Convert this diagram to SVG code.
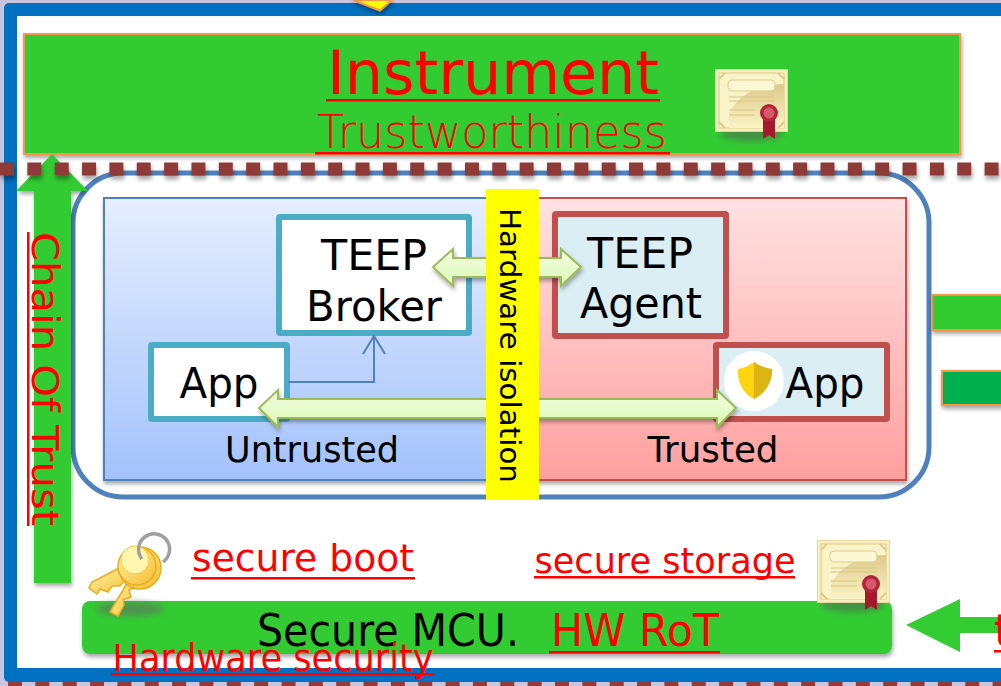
<svg xmlns="http://www.w3.org/2000/svg" width="1001" height="686" viewBox="0 0 1001 686">
<style>
text{font-family:"DejaVu Sans","Noto Sans",sans-serif;fill:#000}
.r{fill:#ff0000}
.u{fill:#ff0000}
.g{fill:#33cc33}
.o{stroke:#f79646;stroke-width:2}
.a{fill:url(#ag);stroke:#9bbb59;stroke-width:2}
.k{fill:url(#kg);stroke:#e8ae1e;stroke-width:1.5}
</style>
<defs>
<linearGradient id="bg" x1="0" y1="0" x2="0" y2="1"><stop offset="0" stop-color="#e6eeff"/><stop offset="1" stop-color="#a3c2fb"/></linearGradient>
<linearGradient id="rg" x1="0" y1="0" x2="0" y2="1"><stop offset="0" stop-color="#ffe2e2"/><stop offset="1" stop-color="#ff9f9f"/></linearGradient>
<linearGradient id="ag" x1="0" y1="0" x2="0" y2="1"><stop offset="0" stop-color="#f2ffdf"/><stop offset="1" stop-color="#dcf7b8"/></linearGradient>
<linearGradient id="kg" x1="0" y1="0" x2="1" y2="1"><stop offset="0" stop-color="#fff3a8"/><stop offset="1" stop-color="#f4bd2e"/></linearGradient>
<linearGradient id="cg" x1="0" y1="0" x2="0" y2="1"><stop offset="0" stop-color="#dcc98a"/><stop offset="1" stop-color="#fbf3c4"/></linearGradient>
<filter id="s" x="-10%" y="-30%" width="120%" height="170%"><feDropShadow dx="1" dy="3" stdDeviation="2" flood-color="#000" flood-opacity=".35"/></filter>
<filter id="ls" filterUnits="userSpaceOnUse" x="0" y="150" width="1001" height="40"><feDropShadow dx="1" dy="4" stdDeviation="2" flood-color="#000" flood-opacity=".35"/></filter>
<filter id="b" x="-30%" y="-100%" width="160%" height="300%"><feGaussianBlur stdDeviation="3"/></filter>
<g id="cert">
<ellipse cx="36" cy="65" rx="32" ry="7" fill="#4d6b4d" opacity=".6" filter="url(#b)"/>
<rect x="0.5" y="0.5" width="72" height="62" fill="#f8efbd" stroke="#e5d9a0"/>
<rect x="4" y="4" width="65" height="55" fill="#faf3c8" stroke="#dccb8c"/>
<path d="M14 45C22 26 44 15 69 15V59H14Z" fill="url(#cg)"/>
<path d="M4 10L10 4M63 4L69 10M4 53L10 59M63 59L69 53" stroke="#dccb8c" stroke-width="2" fill="none"/>
<rect x="13" y="11" width="47" height="11" rx="4" fill="#fdf7d4" stroke="#dccb8c"/>
<path d="M14 28H60M14 32H60M14 41H40M14 46H40" stroke="#d6c585" stroke-width="1.2" fill="none"/>
<path d="M48 48H60V70L54 66L48 70Z" fill="#a6182b"/>
<circle cx="54" cy="44" r="9" fill="#b3243a"/>
<circle cx="54" cy="44" r="5.5" fill="#d4596a"/>
</g>
</defs>

<rect width="1001" height="686" fill="#c9c5df"/>
<g id="frame"><rect x="4" y="3" width="1040" height="679" rx="5" fill="#0070c0"/><rect x="17" y="16" width="1000" height="652" fill="#fff"/></g>
<path id="top-tip" d="M353 0L380 10.500L392 0Z" fill="#ffff00" stroke="#f79646" stroke-width="2" filter="url(#s)"/>

<g id="instrument">
<rect x="24" y="34" width="936" height="120" class="g o" filter="url(#s)"/>
<text x="493" y="94" font-size="60" text-anchor="middle" class="r" textLength="332" lengthAdjust="spacingAndGlyphs">Instrument</text>
<rect class="u" x="326" y="99" width="334" height="2.500"/>
<text x="492" y="148" font-size="46" font-weight="200" text-anchor="middle" class="r" textLength="350" lengthAdjust="spacingAndGlyphs">Trustworthiness</text>
<rect class="u" x="315" y="152" width="355" height="2.500"/>
<use href="#cert" x="715" y="69"/>
</g>

<g id="outer"><rect x="73" y="173" width="856" height="324" rx="50" fill="#fff" stroke="#4f81bd" stroke-width="5"/></g>
<g id="chain-of-trust">
<path d="M34 583V191H16L52 154L88 191H71V583Z" class="g" filter="url(#s)"/>
<text transform="translate(32,232) rotate(90)" font-size="37" class="r" textLength="294" lengthAdjust="spacingAndGlyphs">Chain Of Trust</text>
<rect class="u" x="27" y="232" width="2.500" height="294"/>
</g>
<path id="divider" d="M0 169H1001" fill="none" stroke="#8e3a38" stroke-width="13" stroke-dasharray="14 13.35" filter="url(#ls)"/>

<g id="untrusted"><rect x="104" y="198" width="400" height="282" fill="url(#bg)" stroke="#4f81bd" stroke-width="2" filter="url(#s)"/>
<text x="312" y="462" font-size="36" text-anchor="middle" textLength="174" lengthAdjust="spacingAndGlyphs">Untrusted</text></g>
<g id="trusted"><rect x="504" y="198" width="402" height="282" fill="url(#rg)" stroke="#c0504d" stroke-width="2" filter="url(#s)"/>
<text x="713" y="462" font-size="36" text-anchor="middle" textLength="131" lengthAdjust="spacingAndGlyphs">Trusted</text></g>

<g id="teep-broker"><rect x="279" y="217" width="190" height="116" fill="#fff" stroke="#4bacc6" stroke-width="6" rx="1"/>
<text x="374" y="270" font-size="42" text-anchor="middle" textLength="106" lengthAdjust="spacingAndGlyphs">TEEP</text>
<text x="374" y="321" font-size="42" text-anchor="middle" textLength="136" lengthAdjust="spacingAndGlyphs">Broker</text></g>
<g id="teep-agent"><rect x="555" y="214" width="171" height="122" fill="#daeef3" stroke="#c0504d" stroke-width="6" rx="1"/>
<text x="640" y="268" font-size="42" text-anchor="middle" textLength="106" lengthAdjust="spacingAndGlyphs">TEEP</text>
<text x="641" y="318" font-size="42" text-anchor="middle" textLength="122" lengthAdjust="spacingAndGlyphs">Agent</text></g>
<g id="app-untrusted"><rect x="151" y="345" width="136" height="74" fill="#fff" stroke="#4bacc6" stroke-width="6" rx="1"/>
<text x="219" y="398" font-size="42" text-anchor="middle" textLength="79" lengthAdjust="spacingAndGlyphs">App</text></g>
<g id="app-trusted"><rect x="716" y="345" width="171" height="74" fill="#daeef3" stroke="#c0504d" stroke-width="6" rx="1"/>
<circle cx="754" cy="381" r="30" fill="#fff"/>
<path d="M754 362C760 366 766 368 772 369C773 381 766 393 754 399Z" fill="#dcb414"/>
<path d="M754 362C748 366 744 368 738 369C737 381 742 393 754 399Z" fill="#ffd512"/>
<text x="825" y="398" font-size="42" text-anchor="middle" textLength="79" lengthAdjust="spacingAndGlyphs">App</text></g>

<g id="connectors">
<path d="M288 382H374V336M363 354L374 336L385 354" fill="none" stroke="#4f81bd" stroke-width="2"/>
<path class="a" filter="url(#s)" d="M433 267L453 249V258H561V249L581 267L561 286V277H453V286Z"/>
<path class="a" filter="url(#s)" d="M259 408L278 390V399H717V390L736 408L717 427V418H278V427Z"/>
</g>

<g id="hardware-isolation"><rect x="486" y="189" width="53" height="311" fill="#ffff00"/>
<text transform="translate(500,208) rotate(90)" font-size="29" textLength="275" lengthAdjust="spacingAndGlyphs">Hardware isolation</text></g>

<g id="right-bars">
<rect x="932" y="295" width="90" height="35" class="g o" filter="url(#s)"/>
<rect x="942" y="371" width="80" height="34" fill="#00b050" class="o" filter="url(#s)"/>
</g>

<g id="secure-mcu">
<rect x="82" y="601" width="810" height="53" rx="8" class="g" filter="url(#s)"/>
<text x="388" y="646" font-size="44" text-anchor="middle" textLength="262" lengthAdjust="spacingAndGlyphs">Secure MCU.</text>
<text x="635" y="646" font-size="44" text-anchor="middle" class="r" textLength="168" lengthAdjust="spacingAndGlyphs">HW RoT</text>
<rect class="u" x="549" y="651" width="171" height="2.500"/>
<text x="273" y="671" font-size="37" text-anchor="middle" class="r" textLength="321" lengthAdjust="spacingAndGlyphs">Hardware security</text>
<rect class="u" x="111" y="673" width="323" height="2.500"/>
</g>

<g id="secure-boot">
<ellipse cx="130" cy="609" rx="34" ry="7" fill="#5c7f5c" opacity=".75" filter="url(#b)"/>
<path d="M125 565L92 582L89 588L97 594L100 589L108 592L112 586L120 586L126 578L140 578Z" class="k"/>
<path d="M130 578L110 612L118 616L124 605L123 600L131 597L129 590L136 587L140 580Z" class="k"/>
<circle cx="140" cy="568" r="21" class="k"/>
<circle cx="137" cy="566" r="19" class="k"/>
<circle cx="135" cy="560" r="14" fill="#fff5ad" stroke="#f4c84a"/>
<path d="M142 559A15.500 15.500 0 1 1 163 562" fill="none" stroke="#a0a0a0" stroke-width="3.500"/>
<text x="303" y="571" font-size="38" text-anchor="middle" class="r" textLength="222" lengthAdjust="spacingAndGlyphs">secure boot</text>
<rect class="u" x="191" y="577" width="224" height="2.500"/>
</g>
<g id="secure-storage">
<text x="665" y="573" font-size="35" text-anchor="middle" class="r" textLength="261" lengthAdjust="spacingAndGlyphs">secure storage</text>
<rect class="u" x="534" y="576" width="261" height="2.500"/>
<use href="#cert" x="817" y="540"/>
</g>

<g id="arrow-left">
<path d="M906 625L960 599V617H1001V633H960V652Z" class="g"/>
<text x="994" y="646" font-size="44" class="r">t</text>
<rect class="u" x="994" y="650" width="7" height="2.500"/>
</g>
<path id="bottom-line" d="M0 684H1001" stroke="#963a38" stroke-width="4" stroke-dasharray="14 13.35" stroke-dashoffset="19.35" fill="none"/>
</svg>
